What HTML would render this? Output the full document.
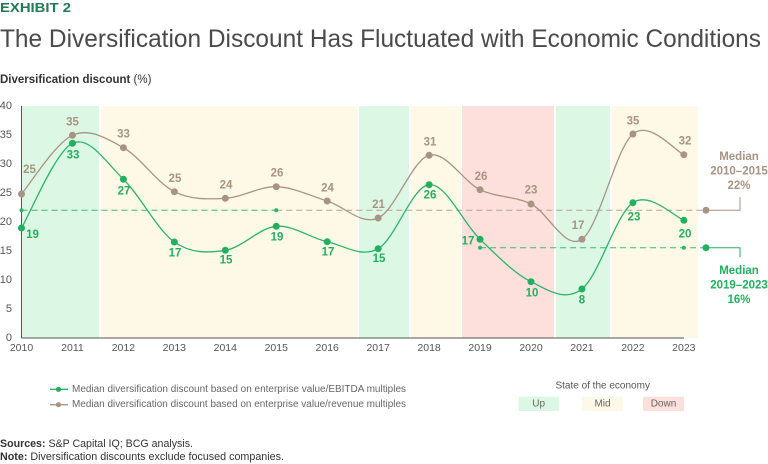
<!DOCTYPE html>
<html><head><meta charset="utf-8"><style>
html,body{margin:0;padding:0;background:#fff;}
svg{display:block;font-family:"Liberation Sans",sans-serif;}
</style></head><body>
<svg width="768" height="464" viewBox="0 0 768 464" xmlns="http://www.w3.org/2000/svg">
<text x="0" y="12" font-size="13" font-weight="bold" fill="#1f7a55" textLength="71" lengthAdjust="spacingAndGlyphs">EXHIBIT 2</text>
<text x="0" y="47" font-size="25" fill="#4a4a4a" textLength="761" lengthAdjust="spacingAndGlyphs">The Diversification Discount Has Fluctuated with Economic Conditions</text>
<text x="0" y="83" font-size="11.5" fill="#333"><tspan font-weight="bold">Diversification discount</tspan> (%)</text>

<!-- bands -->
<rect x="21.5" y="106" width="77.5" height="232" fill="#dcf7e4"/>
<rect x="101" y="106" width="256.5" height="232" fill="#fef8e6"/>
<rect x="359" y="106" width="50" height="232" fill="#dcf7e4"/>
<rect x="411" y="106" width="50" height="232" fill="#fef8e6"/>
<rect x="462" y="106" width="92" height="232" fill="#fde0db"/>
<rect x="556" y="106" width="54" height="232" fill="#dcf7e4"/>
<rect x="612" y="106" width="86" height="232" fill="#fef8e6"/>

<!-- axes -->
<line x1="21.5" y1="106" x2="21.5" y2="338" stroke="#555" stroke-width="1"/>
<line x1="21.5" y1="338" x2="684" y2="338" stroke="#555" stroke-width="1"/>

<g font-size="11" fill="#555" text-anchor="end" dominant-baseline="central">
<text x="12" y="106">40</text>
<text x="12" y="135">35</text>
<text x="12" y="164">30</text>
<text x="12" y="193">25</text>
<text x="12" y="222">20</text>
<text x="12" y="251">15</text>
<text x="12" y="280">10</text>
<text x="12" y="309">5</text>
<text x="12" y="338">0</text>
</g>
<g font-size="10.5" fill="#555" text-anchor="middle" dominant-baseline="central">
<text x="21.5" y="348">2010</text>
<text x="72.45" y="348">2011</text>
<text x="123.4" y="348">2012</text>
<text x="174.35" y="348">2013</text>
<text x="225.3" y="348">2014</text>
<text x="276.25" y="348">2015</text>
<text x="327.2" y="348">2016</text>
<text x="378.15" y="348">2017</text>
<text x="429.1" y="348">2018</text>
<text x="480.05" y="348">2019</text>
<text x="531" y="348">2020</text>
<text x="581.95" y="348">2021</text>
<text x="632.9" y="348">2022</text>
<text x="683.85" y="348">2023</text>
</g>

<!-- median dashed lines -->
<line x1="21.5" y1="210.3" x2="276.25" y2="210.3" stroke="#3cba72" stroke-width="1" stroke-dasharray="6,4"/>
<line x1="276.25" y1="210.3" x2="706" y2="210.3" stroke="#b3a294" stroke-width="1" stroke-dasharray="6,4"/>
<line x1="480.05" y1="247.7" x2="706" y2="247.7" stroke="#3cba72" stroke-width="1" stroke-dasharray="6,4"/>
<g fill="#2db36a">
<circle cx="21.5" cy="210.3" r="2"/><circle cx="276.25" cy="210.3" r="2"/>
<circle cx="480.05" cy="247.7" r="2"/><circle cx="683.85" cy="247.7" r="2"/>
</g>

<!-- series -->
<path d="M21.5,194 C29.99,184.22 55.47,143.02 72.45,135.3 S106.42,138.3 123.4,147.7 S157.37,183.27 174.35,191.7 S208.32,199.13 225.3,198.3 S259.27,186.25 276.25,186.7 S310.22,195.78 327.2,201 S361.17,225.62 378.15,218 S412.12,160.02 429.1,155.3 S463.07,181.58 480.05,189.7 S514.02,195.73 531,204 S564.97,250.97 581.95,239.3 S615.92,148.1 632.9,134 S675.36,151.25 683.85,154.7" fill="none" stroke="#a89483" stroke-width="1.3"/>
<path d="M21.5,228 C29.99,213.88 55.47,151.42 72.45,143.3 S106.42,162.85 123.4,179.3 S157.37,230.17 174.35,242 S208.32,252.92 225.3,250.3 S259.27,227.73 276.25,226.3 S310.22,237.97 327.2,241.7 S361.17,258.2 378.15,248.7 S412.12,186.27 429.1,184.7 S463.07,223.13 480.05,239.3 S514.02,273.42 531,281.7 S564.97,302.17 581.95,289 S615.92,214.15 632.9,202.7 S675.36,217.37 683.85,220.3" fill="none" stroke="#2db36a" stroke-width="1.3"/>
<g fill="#a89483">
<circle cx="21.5" cy="194" r="3.5"/><circle cx="72.45" cy="135.3" r="3.5"/><circle cx="123.4" cy="147.7" r="3.5"/><circle cx="174.35" cy="191.7" r="3.5"/><circle cx="225.3" cy="198.3" r="3.5"/><circle cx="276.25" cy="186.7" r="3.5"/><circle cx="327.2" cy="201" r="3.5"/><circle cx="378.15" cy="218" r="3.5"/><circle cx="429.1" cy="155.3" r="3.5"/><circle cx="480.05" cy="189.7" r="3.5"/><circle cx="531" cy="204" r="3.5"/><circle cx="581.95" cy="239.3" r="3.5"/><circle cx="632.9" cy="134" r="3.5"/><circle cx="683.85" cy="154.7" r="3.5"/>
</g>
<g fill="#22b060">
<circle cx="21.5" cy="228" r="3.5"/><circle cx="72.45" cy="143.3" r="3.5"/><circle cx="123.4" cy="179.3" r="3.5"/><circle cx="174.35" cy="242" r="3.5"/><circle cx="225.3" cy="250.3" r="3.5"/><circle cx="276.25" cy="226.3" r="3.5"/><circle cx="327.2" cy="241.7" r="3.5"/><circle cx="378.15" cy="248.7" r="3.5"/><circle cx="429.1" cy="184.7" r="3.5"/><circle cx="480.05" cy="239.3" r="3.5"/><circle cx="531" cy="281.7" r="3.5"/><circle cx="581.95" cy="289" r="3.5"/><circle cx="632.9" cy="202.7" r="3.5"/><circle cx="683.85" cy="220.3" r="3.5"/>
</g>

<!-- value labels -->
<g font-size="11.5" font-weight="bold" fill="#a89483" text-anchor="middle" dominant-baseline="central">
<text x="29.5" y="170">25</text><text x="72.5" y="122.7">35</text><text x="123.5" y="134.7">33</text><text x="175" y="179">25</text><text x="226" y="185.7">24</text><text x="277" y="173.3">26</text><text x="327.5" y="188.7">24</text><text x="378.5" y="205">21</text><text x="430" y="142.3">31</text><text x="481" y="177">26</text><text x="531" y="190.7">23</text><text x="578" y="226">17</text><text x="633" y="121.7">35</text><text x="685" y="141.7">32</text>
</g>
<g font-size="11.5" font-weight="bold" fill="#22b060" text-anchor="middle" dominant-baseline="central">
<text x="32.5" y="235">19</text><text x="73" y="155.7">33</text><text x="124" y="191.3">27</text><text x="175" y="253.3">17</text><text x="226" y="260.3">15</text><text x="277" y="237.3">19</text><text x="328" y="252.7">17</text><text x="379" y="259">15</text><text x="430" y="195.3">26</text><text x="468" y="241.7">17</text><text x="532" y="293.3">10</text><text x="582" y="300.7">8</text><text x="634" y="217.7">23</text><text x="685" y="234.3">20</text>
</g>

<!-- right annotations -->
<circle cx="706" cy="210.3" r="3.5" fill="#a89483"/>
<polyline points="706,210.3 740,210.3 740,197" fill="none" stroke="#a89483" stroke-width="1"/>
<circle cx="706" cy="247.7" r="3.5" fill="#22b060"/>
<polyline points="706,247.7 740,247.7 740,257" fill="none" stroke="#22b060" stroke-width="1"/>
<g font-size="11.5" font-weight="bold" text-anchor="middle" dominant-baseline="central">
<text x="739" y="157" fill="#a89483">Median</text>
<text x="739" y="171.7" fill="#a89483">2010–2015</text>
<text x="739" y="186" fill="#a89483">22%</text>
<text x="739" y="271" fill="#22b060">Median</text>
<text x="739" y="285.7" fill="#22b060">2019–2023</text>
<text x="739" y="300" fill="#22b060">16%</text>
</g>

<!-- legend -->
<line x1="50" y1="389.3" x2="68" y2="389.3" stroke="#2db36a" stroke-width="1.3"/>
<circle cx="58.5" cy="389.3" r="2.6" fill="#22b060"/>
<line x1="50" y1="404.7" x2="68" y2="404.7" stroke="#a89483" stroke-width="1.3"/>
<circle cx="58.5" cy="404.7" r="2.6" fill="#a89483"/>
<g font-size="10" fill="#666" dominant-baseline="central">
<text x="72" y="389.3" textLength="334" lengthAdjust="spacingAndGlyphs">Median diversification discount based on enterprise value/EBITDA multiples</text>
<text x="72" y="404.7" textLength="334" lengthAdjust="spacingAndGlyphs">Median diversification discount based on enterprise value/revenue multiples</text>
</g>
<text x="602.7" y="386" font-size="10" fill="#555" text-anchor="middle" dominant-baseline="central">State of the economy</text>
<rect x="518.7" y="396.7" width="40" height="14.3" fill="#dcf7e4"/>
<rect x="582" y="396.7" width="41" height="14.3" fill="#fef8e6"/>
<rect x="643" y="396.7" width="41" height="14.3" fill="#fde0db"/>
<g font-size="10" fill="#666" text-anchor="middle" dominant-baseline="central">
<text x="538.7" y="404">Up</text>
<text x="602.5" y="404">Mid</text>
<text x="663.5" y="404">Down</text>
</g>

<!-- sources -->
<text x="0" y="447" font-size="11" fill="#333" textLength="193" lengthAdjust="spacingAndGlyphs"><tspan font-weight="bold">Sources:</tspan> S&amp;P Capital IQ; BCG analysis.</text>
<text x="0" y="460" font-size="11" fill="#333" textLength="284" lengthAdjust="spacingAndGlyphs"><tspan font-weight="bold">Note:</tspan> Diversification discounts exclude focused companies.</text>
</svg>
</body></html>
